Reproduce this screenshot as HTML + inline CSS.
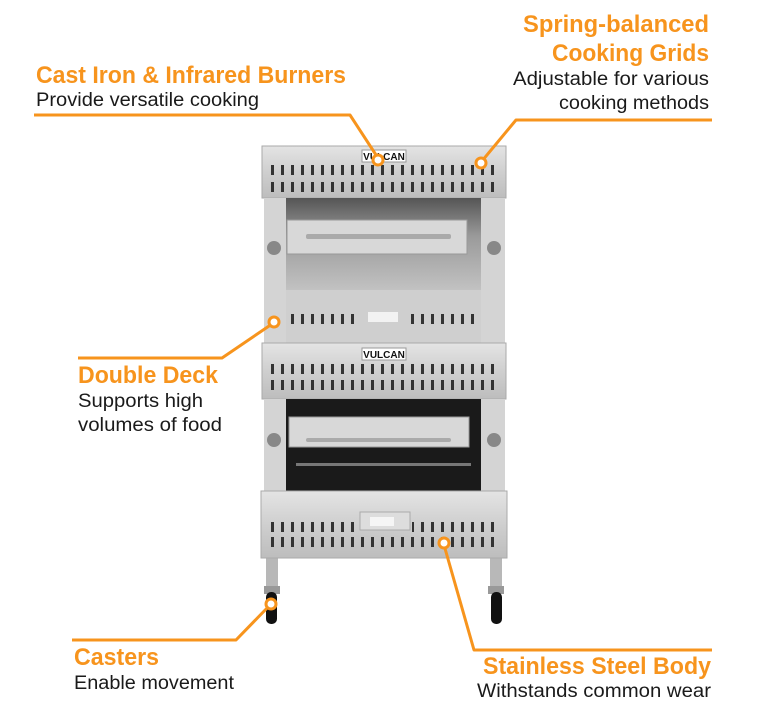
<!DOCTYPE html>
<html><head><meta charset="utf-8"><style>
html,body{margin:0;padding:0;background:#fff;}
svg{display:block}
.t{font-family:"Liberation Sans",sans-serif;font-weight:bold;fill:#f7941d;font-size:24px}
.s{font-family:"Liberation Sans",sans-serif;fill:#1a1a1a;font-size:19px}
</style></head><body>
<svg width="770" height="712" viewBox="0 0 770 712" xmlns="http://www.w3.org/2000/svg">
<defs>
<pattern id="slot" x="268" y="0" width="10" height="400" patternUnits="userSpaceOnUse">
<rect x="3" y="0" width="3" height="400" fill="#333"/>
</pattern>
<linearGradient id="steel" x1="0" y1="0" x2="0" y2="1">
<stop offset="0" stop-color="#e4e4e4"/><stop offset="0.5" stop-color="#cfcfcf"/><stop offset="1" stop-color="#bdbdbd"/>
</linearGradient>
<linearGradient id="dark" x1="0" y1="0" x2="0" y2="1">
<stop offset="0" stop-color="#555"/><stop offset="0.4" stop-color="#9a9a9a"/><stop offset="1" stop-color="#c4c4c4"/>
</linearGradient>
</defs>

<!-- legs & casters -->
<rect x="266" y="555" width="12" height="35" fill="#b8b8b8"/>
<rect x="490" y="555" width="12" height="35" fill="#b8b8b8"/>
<rect x="264" y="586" width="16" height="8" fill="#999"/>
<rect x="488" y="586" width="16" height="8" fill="#999"/>
<rect x="266" y="592" width="11" height="32" rx="5" fill="#111"/>
<rect x="491" y="592" width="11" height="32" rx="5" fill="#111"/>

<!-- upper deck -->
<rect x="262" y="146" width="244" height="52" fill="url(#steel)" stroke="#aaa"/>
<rect x="362" y="150" width="44" height="12" fill="#fff" stroke="#999"/>
<text x="384" y="160" font-family="Liberation Sans,sans-serif" font-weight="bold" font-size="10" text-anchor="middle" fill="#111">VULCAN</text>
<rect x="268" y="165" width="232" height="10" fill="url(#slot)"/>
<rect x="268" y="182" width="232" height="10" fill="url(#slot)"/>
<rect x="264" y="198" width="22" height="148" fill="#d4d4d4"/>
<rect x="481" y="198" width="24" height="148" fill="#d4d4d4"/>
<rect x="286" y="198" width="195" height="95" fill="url(#dark)"/>
<rect x="287" y="220" width="180" height="34" fill="#d8d8d8" stroke="#999"/>
<rect x="306" y="234" width="145" height="5" rx="2" fill="#aaa"/>
<rect x="286" y="290" width="195" height="55" fill="#cfcfcf"/>
<rect x="290" y="314" width="70" height="10" fill="url(#slot)"/>
<rect x="407" y="314" width="70" height="10" fill="url(#slot)"/>
<rect x="368" y="312" width="30" height="10" fill="#f2f2f2"/>
<circle cx="274" cy="248" r="7" fill="#888"/>
<circle cx="494" cy="248" r="7" fill="#888"/>

<!-- lower deck -->
<rect x="262" y="343" width="244" height="56" fill="url(#steel)" stroke="#aaa"/>
<rect x="362" y="348" width="44" height="12" fill="#fff" stroke="#999"/>
<text x="384" y="358" font-family="Liberation Sans,sans-serif" font-weight="bold" font-size="10" text-anchor="middle" fill="#111">VULCAN</text>
<rect x="268" y="364" width="232" height="10" fill="url(#slot)"/>
<rect x="268" y="380" width="232" height="10" fill="url(#slot)"/>
<rect x="264" y="399" width="22" height="92" fill="#d4d4d4"/>
<rect x="481" y="399" width="24" height="92" fill="#d4d4d4"/>
<rect x="286" y="399" width="195" height="92" fill="#1a1a1a"/>
<rect x="289" y="417" width="180" height="30" fill="#d8d8d8" stroke="#999"/>
<rect x="306" y="438" width="145" height="4" rx="2" fill="#aaa"/>
<rect x="296" y="463" width="175" height="3" fill="#777"/>
<circle cx="274" cy="440" r="7" fill="#888"/>
<circle cx="494" cy="440" r="7" fill="#888"/>

<!-- base -->
<rect x="261" y="491" width="246" height="67" fill="url(#steel)" stroke="#aaa"/>
<rect x="268" y="522" width="88" height="10" fill="url(#slot)"/>
<rect x="412" y="522" width="88" height="10" fill="url(#slot)"/>
<rect x="268" y="537" width="232" height="10" fill="url(#slot)"/>
<rect x="360" y="512" width="50" height="18" fill="#ddd" stroke="#aaa"/>
<rect x="370" y="517" width="24" height="9" fill="#f5f5f5"/>

<!-- callout lines -->
<g stroke="#f7941d" stroke-width="3" fill="none" stroke-linejoin="round">
<polyline points="34,115 350,115 378,158"/>
<polyline points="712,120 516,120 482,161"/>
<polyline points="78,358 222,358 272,324"/>
<polyline points="72,640 236,640 270,605"/>
<polyline points="712,650 474,650 444,545"/>
</g>
<g fill="#fff" stroke="#f7941d" stroke-width="3">
<circle cx="378" cy="160" r="5"/>
<circle cx="481" cy="163" r="5"/>
<circle cx="274" cy="322" r="5"/>
<circle cx="271" cy="604" r="5"/>
<circle cx="444" cy="543" r="5"/>
</g>

<!-- text -->
<text class="t" x="36" y="83" textLength="310" lengthAdjust="spacingAndGlyphs">Cast Iron &amp; Infrared Burners</text>
<text class="s" x="36" y="106" textLength="223" lengthAdjust="spacingAndGlyphs">Provide versatile cooking</text>

<text class="t" x="709" y="32" text-anchor="end" textLength="186" lengthAdjust="spacingAndGlyphs">Spring-balanced</text>
<text class="t" x="709" y="61" text-anchor="end" textLength="157" lengthAdjust="spacingAndGlyphs">Cooking Grids</text>
<text class="s" x="709" y="85" text-anchor="end" textLength="196" lengthAdjust="spacingAndGlyphs">Adjustable for various</text>
<text class="s" x="709" y="109" text-anchor="end" textLength="150" lengthAdjust="spacingAndGlyphs">cooking methods</text>

<text class="t" x="78" y="383" textLength="140" lengthAdjust="spacingAndGlyphs">Double Deck</text>
<text class="s" x="78" y="407" textLength="125" lengthAdjust="spacingAndGlyphs">Supports high</text>
<text class="s" x="78" y="431" textLength="144" lengthAdjust="spacingAndGlyphs">volumes of food</text>

<text class="t" x="74" y="665" textLength="85" lengthAdjust="spacingAndGlyphs">Casters</text>
<text class="s" x="74" y="689" textLength="160" lengthAdjust="spacingAndGlyphs">Enable movement</text>

<text class="t" x="711" y="674" text-anchor="end" textLength="228" lengthAdjust="spacingAndGlyphs">Stainless Steel Body</text>
<text class="s" x="711" y="697" text-anchor="end" textLength="234" lengthAdjust="spacingAndGlyphs">Withstands common wear</text>
</svg>
</body></html>
